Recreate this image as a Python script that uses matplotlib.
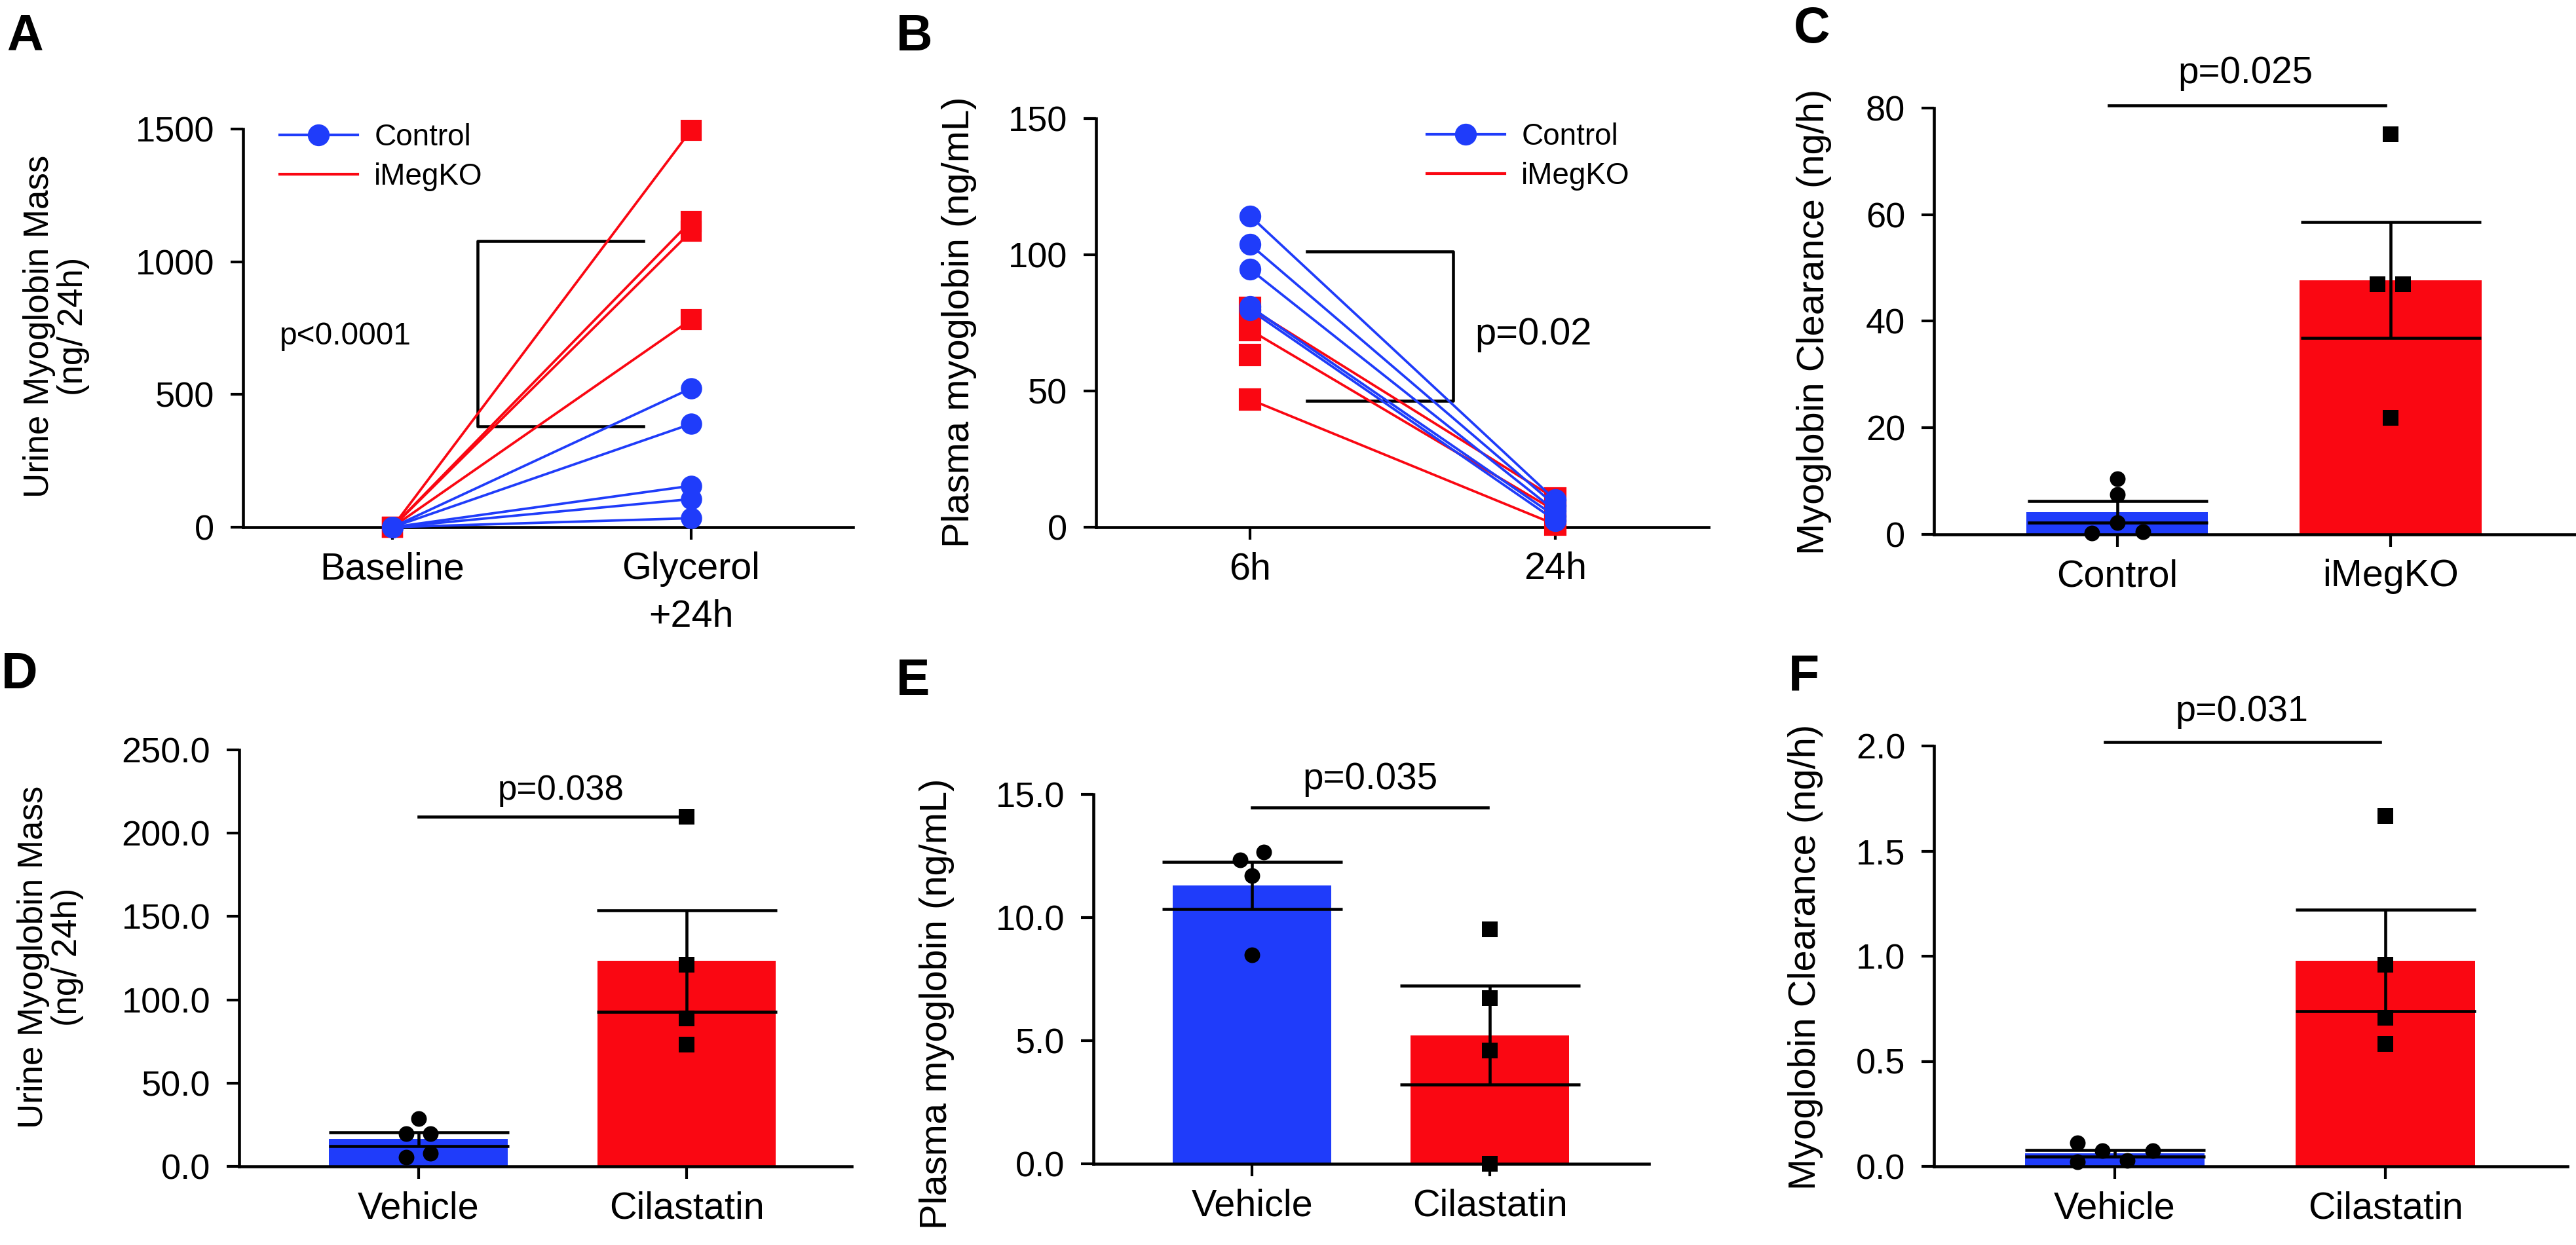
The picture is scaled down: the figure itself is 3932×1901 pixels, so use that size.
import matplotlib
matplotlib.use("Agg")
import matplotlib.pyplot as plt
from matplotlib.lines import Line2D
from matplotlib.ticker import FormatStrFormatter
import numpy as np

plt.rcParams['font.family'] = ['Liberation Sans', 'DejaVu Sans']

# ------------------------------------------
# DATA
# ------------------------------------------
# A: urine myoglobin mass (ng/24h), paired
a_times = ["Baseline", "Glycerol\n+24h"]
a_ctrl_base = [0, 0, 0, 0, 0]
a_ctrl_gly = [523, 389, 156, 106, 34]
a_ko_base = [0, 0, 0, 0]
a_ko_gly = [1496, 1153, 1114, 782]

# B: plasma myoglobin (ng/mL), paired
b_times = ["6h", "24h"]
b_ctrl_6h = [114.3, 103.8, 94.7, 81.0, 79.8]
b_ctrl_24h = [10.0, 8.0, 6.0, 4.0, 2.5]
b_ko_6h = [80.5, 72.4, 63.3, 46.9]
b_ko_24h = [10.5, 6.0, np.nan, 1.0]

# C: myoglobin clearance (ng/h)
c_groups = ["Control", "iMegKO"]
c_ctrl = [10.5, 7.5, 2.2, 0.3, 0.5]
c_ko = [75.1, 46.9, 46.9, 21.9]

# D: urine myoglobin mass (ng/24h)
d_groups = ["Vehicle", "Cilastatin"]
d_veh = [28.6, 19.8, 19.8, 5.5, 7.9]
d_cil = [210.0, 121.0, 89.0, 73.2]

# E: plasma myoglobin (ng/mL)
e_groups = ["Vehicle", "Cilastatin"]
e_veh = [12.65, 12.35, 11.7, 8.48]
e_cil = [9.53, 6.74, 4.61, 0.0]

# F: myoglobin clearance (ng/h)
f_groups = ["Vehicle", "Cilastatin"]
f_veh = [0.111, 0.0755, 0.0755, 0.023, 0.028]
f_cil = [1.666, 0.961, 0.708, 0.582]

# ------------------------------------------
# STYLE / LAYOUT
# ------------------------------------------
BLUE = '#1f3cfa'
RED = '#fa0712'
TICK_FS = 13
CAT_FS = 13.8
LAB_FS = 13.9
LW = 1.1

# point jitter (horizontal spread of overlapping dots, data units)
c_ctrl_jit = [0, 0, 0, -0.094, 0.094]
c_ko_jit = [0, -0.047, 0.047, 0]
d_veh_jit = [0, -0.046, 0.046, -0.046, 0.046]
d_cil_jit = [0, 0, 0, 0]
e_veh_jit = [0.05, -0.05, 0, 0]
e_cil_jit = [0, 0, 0, 0]
f_veh_jit = [-0.138, -0.046, 0.14, -0.138, 0.046]
f_cil_jit = [0, 0, 0, 0]

W, H = 3932, 1901
fig = plt.figure(figsize=(W / 300, H / 300), dpi=300)


def make_axes(left, right, top, bottom):
    # pixel box -> figure fraction
    return fig.add_axes([left / W, 1 - bottom / H, (right - left) / W, (bottom - top) / H])


def style_axes(ax, ylim, yticks, fmt, xlim, cats, ylabel, lab_x, lab_y, lab_fs):
    ax.set_xlim(*xlim)
    ax.set_ylim(*ylim)
    ax.set_yticks(yticks)
    if fmt:
        ax.yaxis.set_major_formatter(FormatStrFormatter(fmt))
    ax.set_xticks(range(len(cats)))
    ax.set_xticklabels(cats, fontsize=CAT_FS, linespacing=1.45)
    for s in ['top', 'right']:
        ax.spines[s].set_visible(False)
    for s in ['left', 'bottom']:
        ax.spines[s].set_linewidth(LW)
    ax.tick_params(axis='y', direction='out', length=4.5, width=1.0, pad=6, labelsize=TICK_FS)
    ax.tick_params(axis='x', direction='out', length=4.5, width=1.0, pad=4.5)
    ax.set_ylabel(ylabel, fontsize=lab_fs, linespacing=1.05)
    ax.yaxis.set_label_coords(lab_x, lab_y)


def paired(ax, x0_vals, x1_vals, color, marker, ms):
    for v0, v1 in zip(x0_vals, x1_vals):
        ax.plot([0, 1], [v0, v1], color=color, lw=0.9, marker=marker, ms=ms,
                mec=color, mfc=color, clip_on=False, zorder=3)


def bars(ax, groups, colors, markers, jitters):
    for i, (vals, col, mk, jit) in enumerate(zip(groups, colors, markers, jitters)):
        vals = np.asarray(vals)
        mean = vals.mean()
        sem = vals.std(ddof=1) / np.sqrt(len(vals))
        ax.bar(i, mean, width=0.665, color=col, zorder=1)
        ax.errorbar(i, mean, yerr=sem, color='black', lw=1.1, capsize=33,
                    capthick=1.1, zorder=2, clip_on=False)
        ax.scatter(i + np.asarray(jit), vals, s=33, marker=mk, color='black',
                   zorder=4, clip_on=False, linewidths=0)


def sig(ax, x0, x1, y, ty, tx, text, fs):
    ax.plot([x0, x1], [y, y], color='black', lw=1.1, clip_on=False)
    ax.text(tx, ty, text, ha='center', va='bottom', fontsize=fs)


legend_handles = [Line2D([], [], color=BLUE, lw=1.0, marker='o', ms=7),
                  Line2D([], [], color=RED, lw=1.0)]

# ---------------- A ----------------
axA = make_axes(371, 1302, 197, 805)
paired(axA, a_ko_base, a_ko_gly, RED, 's', 6.8)
paired(axA, a_ctrl_base, a_ctrl_gly, BLUE, 'o', 6.8)
style_axes(axA, (0, 1500), [0, 500, 1000, 1500], None, (-0.5, 1.542), a_times,
           "Urine Myoglobin Mass\n(ng/ 24h)", -0.251, 0.505, 12.7)
axA.plot([0.84, 0.286, 0.286, 0.84], [1078, 1078, 380, 380], color='black', lw=1.1)
axA.text(-0.377, 718, "p<0.0001", ha='left', va='center', fontsize=11.5)
axA.legend(legend_handles, ["Control", "iMegKO"], loc='upper left', bbox_to_anchor=(0.06, 1.015),
           frameon=False, fontsize=11, handlelength=2.6, handletextpad=0.55,
           labelspacing=0.35, borderpad=0, borderaxespad=0)

# ---------------- B ----------------
axB = make_axes(1673, 2608, 181, 805)
paired(axB, b_ko_6h, b_ko_24h, RED, 's', 7)
paired(axB, b_ctrl_6h, b_ctrl_24h, BLUE, 'o', 7)
style_axes(axB, (0, 150), [0, 50, 100, 150], None, (-0.504, 1.502), b_times,
           "Plasma myoglobin (ng/mL)", -0.195, 0.502, LAB_FS)
axB.plot([0.187, 0.665, 0.665, 0.187], [101.1, 101.1, 46.3, 46.3], color='black', lw=1.1)
axB.text(0.736, 70.6, "p=0.02", ha='left', va='center', fontsize=13.9)
axB.legend(legend_handles, ["Control", "iMegKO"], loc='upper left', bbox_to_anchor=(0.54, 0.99),
           frameon=False, fontsize=11, handlelength=2.6, handletextpad=0.55,
           labelspacing=0.35, borderpad=0, borderaxespad=0)

# ---------------- C ----------------
axC = make_axes(2952, 3932, 165, 816)
bars(axC, [c_ctrl, c_ko], [BLUE, RED], ['o', 's'], [c_ctrl_jit, c_ko_jit])
style_axes(axC, (0, 80), [0, 20, 40, 60, 80], None, (-0.671, 1.679), c_groups,
           "Myoglobin Clearance (ng/h)", -0.159, 0.498, LAB_FS)
sig(axC, -0.03, 0.98, 80.5, 83.2, 0.47, "p=0.025", 13.6)

# ---------------- D ----------------
axD = make_axes(365, 1300, 1145, 1781)
bars(axD, [d_veh, d_cil], [BLUE, RED], ['o', 's'], [d_veh_jit, d_cil_jit])
style_axes(axD, (0, 250), [0, 50, 100, 150, 200, 250], '%.1f', (-0.668, 1.615), d_groups,
           "Urine Myoglobin Mass\n(ng/ 24h)", -0.253, 0.503, 12.7)
sig(axD, 0, 1, 210, 215.8, 0.53, "p=0.038", 12.7)

# ---------------- E ----------------
axE = make_axes(1669, 2517, 1213, 1777)
bars(axE, [e_veh, e_cil], [BLUE, RED], ['o', 's'], [e_veh_jit, e_cil_jit])
style_axes(axE, (0, 15), [0, 5, 10, 15], '%.1f', (-0.667, 1.669), e_groups,
           "Plasma myoglobin (ng/mL)", -0.25, 0.433, LAB_FS)
sig(axE, 0, 0.99, 14.47, 14.89, 0.496, "p=0.035", 13.6)

# ---------------- F ----------------
axF = make_axes(2952, 3919, 1139, 1781)
bars(axF, [f_veh, f_cil], [BLUE, RED], ['o', 's'], [f_veh_jit, f_cil_jit])
style_axes(axF, (0, 2), [0, 0.5, 1.0, 1.5, 2.0], '%.1f', (-0.668, 1.673), f_groups,
           "Myoglobin Clearance (ng/h)", -0.175, 0.498, LAB_FS)
sig(axF, -0.036, 0.98, 2.02, 2.08, 0.47, "p=0.031", 13.4)

# panel letters
for letter, px, py in [("A", 10, 20), ("B", 1368, 20), ("C", 2738, 8),
                       ("D", 2, 994), ("E", 1368, 1004), ("F", 2730, 998)]:
    fig.text(px / W, 1 - py / H, letter, fontsize=18.5, fontweight='bold', va='top', ha='left')

fig.savefig("out.png", dpi=300)
